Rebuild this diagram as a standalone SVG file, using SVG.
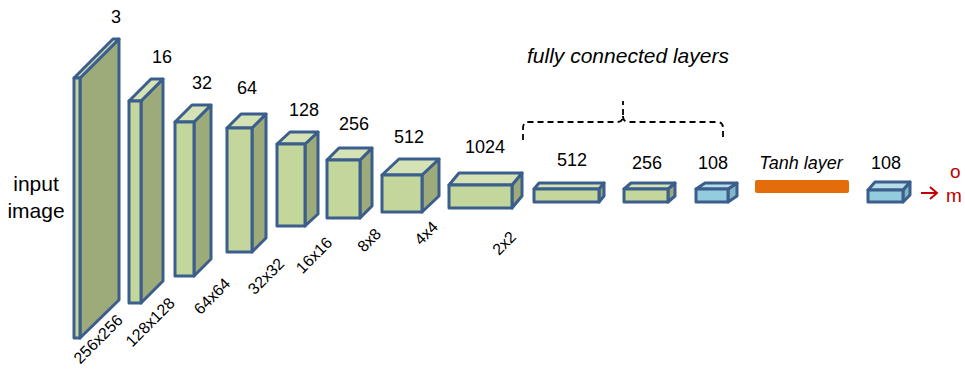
<svg xmlns="http://www.w3.org/2000/svg" width="965" height="370" viewBox="0 0 965 370">
  <style>
    .face { stroke: #3B5E8C; stroke-width: 3; stroke-linejoin: round; }
    .gf { fill: #C3D69B; }
    .gt { fill: #D4E2B6; }
    .gs { fill: #9CAB79; }
    .bf { fill: #93CDDD; }
    .bt { fill: #B7DEE8; }
    .bs { fill: #80B6C6; }
    .num { font-family: "Liberation Sans", Arial, sans-serif; font-size: 18px; fill: #000; text-anchor: middle; }
    .dim { font-family: "Liberation Sans", Arial, sans-serif; font-size: 16px; fill: #000; text-anchor: middle; }
    .ital { font-family: "Liberation Sans", Arial, sans-serif; font-style: italic; fill: #000; text-anchor: middle; }
    .red { font-family: "Liberation Sans", Arial, sans-serif; font-size: 19px; fill: #C00000; }
  </style>

  <!-- input label -->
  <g id="input-label">
    <text class="num" x="36" y="191" style="font-size:21px">input</text>
    <text class="num" x="36" y="218" style="font-size:21px">image</text>
  </g>

  <!-- convolutional volumes: side face, top face, front face -->
  <g id="vol-3">
    <polygon class="face gs" points="80,78 119,39 119,300 80,338"/>
    <polygon class="face gt" points="74,78 80,78 119,39 113,39"/>
    <rect class="face gf" x="74" y="78" width="6" height="260"/>
    <text class="num" x="116" y="23">3</text>
    <text class="dim" transform="translate(102,343) rotate(-45)">256x256</text>
  </g>
  <g id="vol-16">
    <polygon class="face gs" points="141,101 163,79 163,281 141,303"/>
    <polygon class="face gt" points="129,101 141,101 163,79 151,79"/>
    <rect class="face gf" x="129" y="101" width="12" height="202"/>
    <text class="num" x="162" y="63">16</text>
    <text class="dim" transform="translate(154,326) rotate(-45)">128x128</text>
  </g>
  <g id="vol-32">
    <polygon class="face gs" points="194,122 211,105 211,259 194,276"/>
    <polygon class="face gt" points="175,122 194,122 211,105 192,105"/>
    <rect class="face gf" x="175" y="122" width="19" height="154"/>
    <text class="num" x="202" y="89">32</text>
    <text class="dim" transform="translate(216,300) rotate(-45)">64x64</text>
  </g>
  <g id="vol-64">
    <polygon class="face gs" points="252,128 266,114 266,238 252,252"/>
    <polygon class="face gt" points="227,128 252,128 266,114 241,114"/>
    <rect class="face gf" x="227" y="128" width="25" height="124"/>
    <text class="num" x="247" y="94">64</text>
    <text class="dim" transform="translate(270,280) rotate(-45)">32x32</text>
  </g>
  <g id="vol-128">
    <polygon class="face gs" points="305,144 318,132 318,214 305,226"/>
    <polygon class="face gt" points="277,144 305,144 318,132 290,132"/>
    <rect class="face gf" x="277" y="144" width="28" height="82"/>
    <text class="num" x="304" y="116">128</text>
    <text class="dim" transform="translate(318,259) rotate(-45)">16x16</text>
  </g>
  <g id="vol-256">
    <polygon class="face gs" points="360,160 372,148 372,206 360,218"/>
    <polygon class="face gt" points="327,160 360,160 372,148 339,148"/>
    <rect class="face gf" x="327" y="160" width="33" height="58"/>
    <text class="num" x="354" y="130">256</text>
    <text class="dim" transform="translate(373,244) rotate(-45)">8x8</text>
  </g>
  <g id="vol-512">
    <polygon class="face gs" points="422,175 439,159 439,196 422,212"/>
    <polygon class="face gt" points="382,175 422,175 439,159 399,159"/>
    <rect class="face gf" x="382" y="175" width="40" height="37"/>
    <text class="num" x="409" y="143">512</text>
    <text class="dim" transform="translate(430,237) rotate(-45)">4x4</text>
  </g>
  <g id="vol-1024">
    <polygon class="face gs" points="512,185 522,173 522,196 512,208"/>
    <polygon class="face gt" points="449,185 512,185 522,173 459,173"/>
    <rect class="face gf" x="449" y="185" width="63" height="23"/>
    <text class="num" x="485" y="153">1024</text>
    <text class="dim" transform="translate(508,247) rotate(-45)">2x2</text>
  </g>

  <!-- fully connected layers -->
  <g id="fc-512">
    <polygon class="face gs" points="599,189 604,183 604,196 599,202"/>
    <polygon class="face gt" points="534,189 599,189 604,183 539,183"/>
    <rect class="face gf" x="534" y="189" width="65" height="13"/>
    <text class="num" x="572" y="166">512</text>
  </g>
  <g id="fc-256">
    <polygon class="face gs" points="668,189 675,183 675,196 668,202"/>
    <polygon class="face gt" points="624,189 668,189 675,183 631,183"/>
    <rect class="face gf" x="624" y="189" width="44" height="13"/>
    <text class="num" x="647" y="169">256</text>
  </g>
  <g id="fc-108">
    <polygon class="face bs" points="728,189 737,183 737,196 728,202"/>
    <polygon class="face bt" points="696,189 728,189 737,183 705,183"/>
    <rect class="face bf" x="696" y="189" width="32" height="13"/>
    <text class="num" x="713" y="169">108</text>
  </g>

  <!-- tanh layer -->
  <g id="tanh">
    <rect x="755" y="180" width="94" height="13" rx="2" fill="#E46C0A"/>
    <text class="ital" x="801" y="169" style="font-size:18px">Tanh layer</text>
  </g>

  <g id="out-108">
    <polygon class="face bs" points="903,190 910,182 910,195 903,202"/>
    <polygon class="face bt" points="868,190 903,190 910,182 875,182"/>
    <rect class="face bf" x="868" y="190" width="35" height="12"/>
    <text class="num" x="886" y="169">108</text>
  </g>

  <!-- output text, running off the right edge -->
  <g id="output">
    <text class="red" x="950" y="178">o</text>
    <text class="red" x="946" y="202">m</text>
  </g>

  <!-- connectors -->
  <g id="connectors" fill="none">
    <path d="M523,140 L523,128 Q523,122 529,122 L617,122 Q623,122 623,116 L623,101 M623,116 Q623,122 629,122 L717,122 Q723,122 723,128 L723,140"
          stroke="#000" stroke-width="1.8" stroke-dasharray="6 4"/>
    <path d="M921,193 L937,193 M930,187 L937,193 L930,199" stroke="#C00000" stroke-width="2"/>
  </g>

  <text class="ital" x="628" y="63" style="font-size:21px">fully connected layers</text>
</svg>
